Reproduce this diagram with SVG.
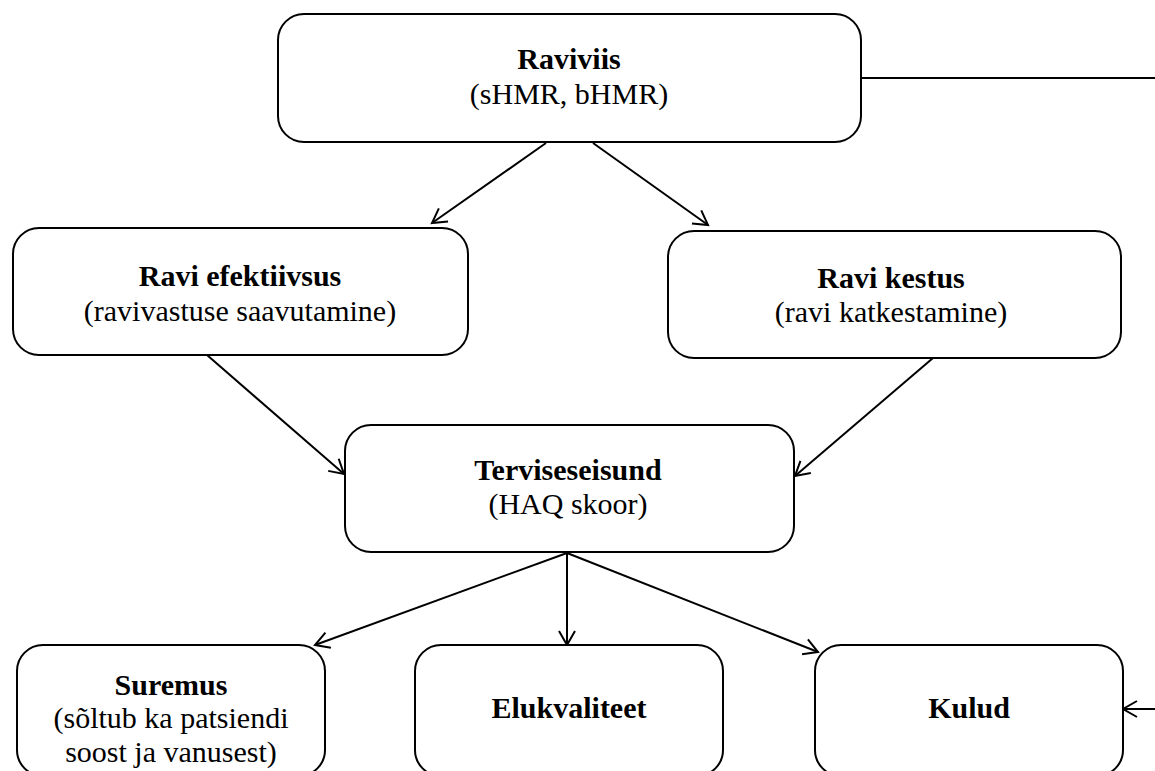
<svg xmlns="http://www.w3.org/2000/svg" width="1155" height="771" viewBox="0 0 1155 771">
  <style>
    .box { fill: #ffffff; stroke: #000000; stroke-width: 2; }
    .t { font-family: "Liberation Serif", "Times New Roman", serif; font-size: 30px; fill: #000000; text-anchor: middle; }
    .b { font-weight: bold; }
    .edge { fill: none; stroke: #000000; stroke-width: 2; }
  </style>
  <defs>
    <marker id="arrow" markerUnits="userSpaceOnUse" markerWidth="20" markerHeight="20" viewBox="0 0 20 20" refX="16" refY="10" orient="auto">
      <path d="M2,2 L16,10 L2,18" fill="none" stroke="#000000" stroke-width="2" stroke-linejoin="miter"/>
    </marker>
  </defs>

  <rect width="1155" height="771" fill="#ffffff"/>

  <!-- connectors -->
  <g id="connectors">
    <line class="edge" x1="546" y1="143" x2="432" y2="223" marker-end="url(#arrow)"/>
    <line class="edge" x1="593" y1="143" x2="708" y2="225" marker-end="url(#arrow)"/>
    <line class="edge" x1="207" y1="355" x2="344" y2="474" marker-end="url(#arrow)"/>
    <line class="edge" x1="933" y1="358" x2="795" y2="476" marker-end="url(#arrow)"/>
    <line class="edge" x1="567" y1="553" x2="315" y2="645" marker-end="url(#arrow)"/>
    <line class="edge" x1="567" y1="553" x2="567" y2="645" marker-end="url(#arrow)"/>
    <line class="edge" x1="567" y1="553" x2="818" y2="652" marker-end="url(#arrow)"/>
    <line class="edge" x1="861" y1="78" x2="1155" y2="78"/>
    <line class="edge" x1="1155" y1="709" x2="1123" y2="709" marker-end="url(#arrow)"/>
  </g>

  <!-- nodes -->
  <g id="raviviis">
    <rect class="box" x="278" y="14" width="583" height="128" rx="26" ry="26"/>
    <text class="t b" x="569" y="69">Raviviis</text>
    <text class="t" x="569" y="104">(sHMR, bHMR)</text>
  </g>

  <g id="ravi-efektiivsus">
    <rect class="box" x="13" y="228" width="455" height="127" rx="26" ry="26"/>
    <text class="t b" x="240" y="286">Ravi efektiivsus</text>
    <text class="t" x="240" y="321">(ravivastuse saavutamine)</text>
  </g>

  <g id="ravi-kestus">
    <rect class="box" x="668" y="231" width="453" height="127" rx="26" ry="26"/>
    <text class="t b" x="891" y="288">Ravi kestus</text>
    <text class="t" x="891" y="322">(ravi katkestamine)</text>
  </g>

  <g id="terviseseisund">
    <rect class="box" x="345" y="425" width="449" height="127" rx="26" ry="26"/>
    <text class="t b" x="568" y="480">Terviseseisund</text>
    <text class="t" x="568" y="514">(HAQ skoor)</text>
  </g>

  <g id="suremus">
    <rect class="box" x="17" y="645" width="308" height="131" rx="26" ry="26"/>
    <text class="t b" x="171" y="695">Suremus</text>
    <text class="t" x="171" y="728">(sõltub ka patsiendi</text>
    <text class="t" x="171" y="762">soost ja vanusest)</text>
  </g>

  <g id="elukvaliteet">
    <rect class="box" x="415" y="645" width="308" height="131" rx="26" ry="26"/>
    <text class="t b" x="569" y="718">Elukvaliteet</text>
  </g>

  <g id="kulud">
    <rect class="box" x="815" y="645" width="308" height="131" rx="26" ry="26"/>
    <text class="t b" x="969" y="718">Kulud</text>
  </g>
</svg>
